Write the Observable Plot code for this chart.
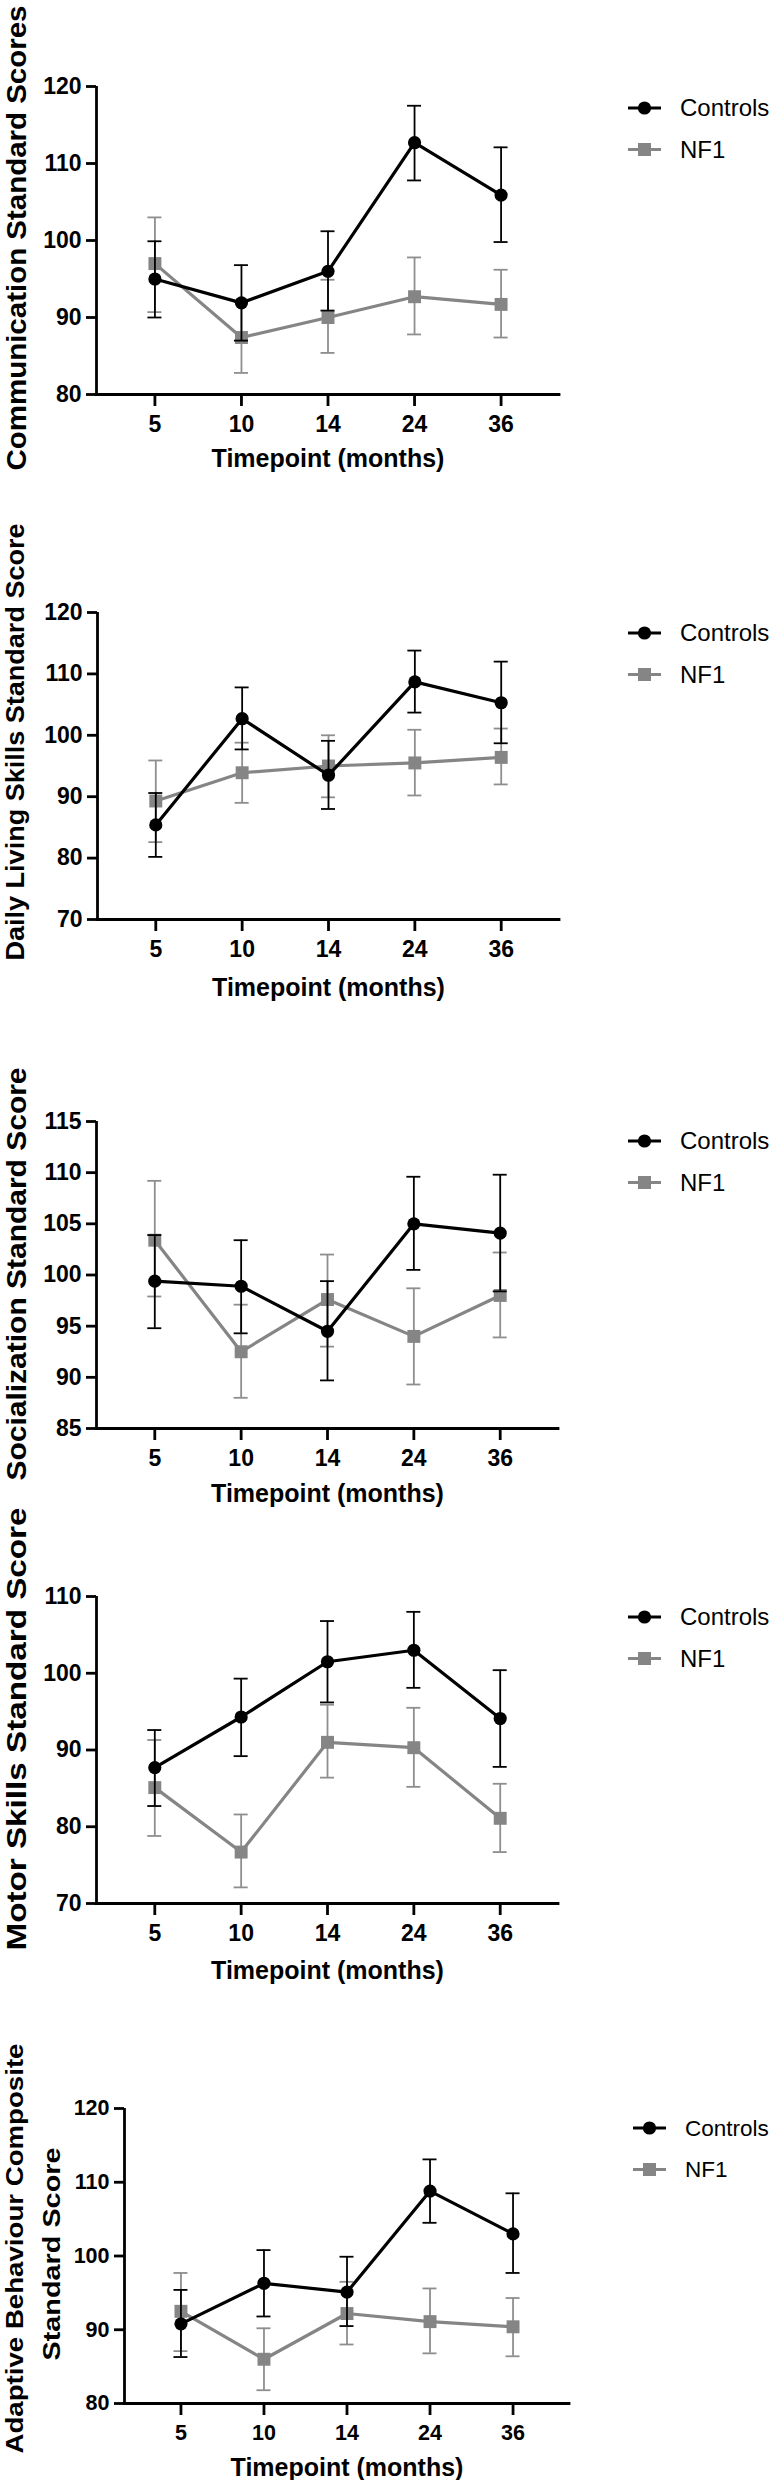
<!DOCTYPE html>
<html><head><meta charset="utf-8">
<script src="https://cdn.jsdelivr.net/npm/d3@7"></script>
<script src="https://cdn.jsdelivr.net/npm/@observablehq/plot@0.6"></script>
<style>
html,body{margin:0;padding:0;background:#fff;}
#root{position:relative;width:772px;height:2480px;overflow:hidden;font-family:"Liberation Sans",Arial,Helvetica,sans-serif;}
#root > svg{position:absolute;left:0;}
</style></head><body><div id="root"></div>
<script>
// ---------- data ----------
const timepoints = ["5", "10", "14", "24", "36"];
const seriesNames = ["Controls", "NF1"];
const xTitle = "Timepoint (months)";

// Communication
const commControlsMean = [95.0, 91.9, 96.0, 112.7, 105.9];
const commControlsLow  = [90.0, 87.0, 90.9, 107.8, 99.8];
const commControlsHigh = [99.9, 96.8, 101.2, 117.5, 112.1];
const commNF1Mean = [97.0, 87.4, 90.0, 92.7, 91.7];
const commNF1Low  = [90.7, 82.8, 85.4, 87.8, 87.4];
const commNF1High = [103.0, 92.0, 94.9, 97.8, 96.2];

// Daily Living Skills
const dlsControlsMean = [85.4, 102.7, 93.5, 108.7, 105.3];
const dlsControlsLow  = [80.2, 97.7, 88.0, 103.7, 98.7];
const dlsControlsHigh = [90.6, 107.8, 99.1, 113.8, 112.0];
const dlsNF1Mean = [89.3, 93.9, 95.0, 95.5, 96.4];
const dlsNF1Low  = [82.6, 89.0, 89.9, 90.2, 92.0];
const dlsNF1High = [95.9, 98.8, 100.0, 100.9, 101.1];

// Socialization
const socControlsMean = [99.4, 98.9, 94.5, 105.0, 104.1];
const socControlsLow  = [94.8, 94.3, 89.7, 100.5, 98.4];
const socControlsHigh = [103.9, 103.4, 99.4, 109.6, 109.8];
const socNF1Mean = [103.4, 92.5, 97.6, 94.0, 98.0];
const socNF1Low  = [97.9, 88.0, 93.0, 89.3, 93.9];
const socNF1High = [109.2, 97.1, 102.0, 98.7, 102.2];

// Motor Skills
const motControlsMean = [87.7, 94.3, 101.5, 103.0, 94.1];
const motControlsLow  = [82.7, 89.2, 96.2, 98.1, 87.8];
const motControlsHigh = [92.6, 99.3, 106.8, 108.0, 100.4];
const motNF1Mean = [85.1, 76.7, 91.0, 90.3, 81.1];
const motNF1Low  = [78.8, 72.1, 86.4, 85.2, 76.7];
const motNF1High = [91.3, 81.6, 95.9, 95.5, 85.6];

// Adaptive Behaviour Composite
const abcControlsMean = [90.8, 96.3, 95.1, 108.8, 103.0];
const abcControlsLow  = [86.3, 91.8, 90.5, 104.5, 97.7];
const abcControlsHigh = [95.4, 100.8, 99.9, 113.1, 108.5];
const abcNF1Mean = [92.5, 86.0, 92.2, 91.1, 90.4];
const abcNF1Low  = [87.1, 81.8, 88.0, 86.8, 86.4];
const abcNF1High = [97.7, 90.2, 96.5, 95.6, 94.3];

// y-axis titles and tick values
const commTitle = ["Communication Standard Scores"];
const dlsTitle = ["Daily Living Skills Standard Score"];
const socTitle = ["Socialization Standard Score"];
const motTitle = ["Motor Skills Standard Score"];
const abcTitle = ["Adaptive Behaviour Composite", "Standard Score"];
const commTicks = [80, 90, 100, 110, 120];
const dlsTicks = [70, 80, 90, 100, 110, 120];
const socTicks = [85, 90, 95, 100, 105, 110, 115];
const motTicks = [70, 80, 90, 100, 110];
const abcTicks = [80, 90, 100, 110, 120];

// ---------- layout ----------
const FONT = '"Liberation Sans", Arial, Helvetica, sans-serif';
const BLACK = "#000000";
const GREY = "#858585";
const GREY_ERR = "#8e8e8e";

const panels = [
  {title: commTitle, ticks: commTicks, c: [commControlsMean, commControlsLow, commControlsHigh], n: [commNF1Mean, commNF1Low, commNF1High],
   top: 0, height: 510, fTop: 86, fBottom: 394, fLeft: 96, fRight: 559, pad: 0.675, tickFont: 23,
   titleX: [17], titleCY: [237.5], titleFont: 28, titleLen: [465], xTitleDy: 64, legendY: 108, legendX: 628, legendFont: 24},
  {title: dlsTitle, ticks: dlsTicks, c: [dlsControlsMean, dlsControlsLow, dlsControlsHigh], n: [dlsNF1Mean, dlsNF1Low, dlsNF1High],
   top: 510, height: 500, fTop: 612, fBottom: 919, fLeft: 97, fRight: 559, pad: 0.675, tickFont: 23,
   titleX: [15.5], titleCY: [741.5], titleFont: 26, titleLen: [437], xTitleDy: 68, legendY: 633, legendX: 628, legendFont: 24},
  {title: socTitle, ticks: socTicks, c: [socControlsMean, socControlsLow, socControlsHigh], n: [socNF1Mean, socNF1Low, socNF1High],
   top: 1010, height: 500, fTop: 1121, fBottom: 1428, fLeft: 96, fRight: 558, pad: 0.675, tickFont: 23,
   titleX: [17], titleCY: [1273.5], titleFont: 28, titleLen: [413], xTitleDy: 65, legendY: 1141, legendX: 628, legendFont: 24},
  {title: motTitle, ticks: motTicks, c: [motControlsMean, motControlsLow, motControlsHigh], n: [motNF1Mean, motNF1Low, motNF1High],
   top: 1510, height: 480, fTop: 1596, fBottom: 1903, fLeft: 96, fRight: 558, pad: 0.675, tickFont: 23,
   titleX: [16.5], titleCY: [1728.5], titleFont: 27, titleLen: [443], xTitleDy: 67, legendY: 1617, legendX: 628, legendFont: 24},
  {title: abcTitle, ticks: abcTicks, c: [abcControlsMean, abcControlsLow, abcControlsHigh], n: [abcNF1Mean, abcNF1Low, abcNF1High],
   top: 1990, height: 490, fTop: 2108, fBottom: 2403, fLeft: 124, fRight: 569, pad: 0.68, tickFont: 21.5,
   titleX: [15, 52.5], titleCY: [2248, 2253.5], titleFont: 23, titleLen: [410, 213], xTitleDy: 64, legendY: 2128, legendX: 633, legendFont: 22.5}
];

const root = document.getElementById("root");

function rowsOf([mean, low, high], name) {
  return timepoints.map((t, i) => ({i, t, mean: mean[i], low: low[i], high: high[i], series: name}));
}

panels.forEach(p => {
  const ctrl = rowsOf(p.c, seriesNames[0]);
  const nf1 = rowsOf(p.n, seriesNames[1]);
  const yDomain = [p.ticks[0], p.ticks[p.ticks.length - 1]];
  const xDomain = [-p.pad, timepoints.length - 1 + p.pad];
  const step = (p.fRight - p.fLeft) / (xDomain[1] - xDomain[0]);
  const cap = 7 / step;
  const frameCY = (p.fTop + p.fBottom) / 2;

  const errMarks = (rows, color, w) => [
    Plot.ruleX(rows, {x: "i", y1: "low", y2: "high", stroke: color, strokeWidth: w}),
    Plot.ruleY(rows, {y: "high", x1: d => d.i - cap, x2: d => d.i + cap, stroke: color, strokeWidth: w}),
    Plot.ruleY(rows, {y: "low", x1: d => d.i - cap, x2: d => d.i + cap, stroke: color, strokeWidth: w})
  ];

  const titleMarks = p.title.map((line, k) =>
    Plot.text([line], {
      text: d => d, frameAnchor: "left", rotate: -90,
      dx: p.titleX[k] - p.fLeft, dy: p.titleCY[k] - frameCY,
      textAnchor: "middle", lineAnchor: "middle",
      fontSize: p.titleFont, fontWeight: "bold", fill: BLACK
    })
  );

  const svg = Plot.plot({
    width: 772,
    height: p.height,
    marginTop: p.fTop - p.top,
    marginBottom: p.top + p.height - p.fBottom,
    marginLeft: p.fLeft,
    marginRight: 772 - p.fRight,
    x: {domain: xDomain, axis: null},
    y: {domain: yDomain, axis: null},
    style: {fontFamily: FONT, color: BLACK, background: "transparent", overflow: "visible"},
    marks: [
      Plot.axisY({ticks: p.ticks, tickFormat: d => String(d), tickSize: 10, tickPadding: 5, stroke: BLACK, strokeWidth: 2.8,
        fontSize: p.tickFont, fontWeight: "bold", fill: BLACK, label: null}),
      Plot.axisX({ticks: timepoints.map((t, i) => i), tickFormat: i => timepoints[i], tickSize: 12, tickPadding: 9, stroke: BLACK, strokeWidth: 2.8,
        fontSize: p.tickFont, fontWeight: "bold", fill: BLACK, label: null}),
      Plot.ruleX([xDomain[0]], {stroke: BLACK, strokeWidth: 2.8}),
      Plot.ruleY([yDomain[0]], {stroke: BLACK, strokeWidth: 2.8, strokeLinecap: "square"}),
      ...errMarks(nf1, GREY_ERR, 1.8),
      Plot.line(nf1, {x: "i", y: "mean", stroke: GREY, strokeWidth: 3.2}),
      Plot.dot(nf1, {x: "i", y: "mean", symbol: "square", r: 7.3, fill: GREY, stroke: "none"}),
      ...errMarks(ctrl, BLACK, 1.8),
      Plot.line(ctrl, {x: "i", y: "mean", stroke: BLACK, strokeWidth: 3.2}),
      Plot.dot(ctrl, {x: "i", y: "mean", symbol: "circle", r: 6.6, fill: BLACK, stroke: "none"}),
      ...titleMarks,
      Plot.text([xTitle], {text: d => d, frameAnchor: "bottom", dy: p.xTitleDy, lineAnchor: "middle",
        fontSize: 25, fontWeight: "bold", fill: BLACK})
    ]
  });
  svg.style.top = p.top + "px";
  // fit y-axis title lengths to the reference
  svg.querySelectorAll("text").forEach(t => {
    const k = p.title.indexOf(t.textContent);
    if (k >= 0) {
      t.setAttribute("textLength", p.titleLen[k]);
      t.setAttribute("lengthAdjust", "spacingAndGlyphs");
    }
  });
  root.appendChild(svg);

  // legend
  const lg = d3.create("svg")
    .attr("width", 772 - p.legendX + 10).attr("height", 90)
    .style("left", (p.legendX - 10) + "px").style("top", (p.legendY - 25) + "px")
    .style("position", "absolute").style("overflow", "visible");
  const items = [
    {name: seriesNames[0], color: BLACK, shape: "circle", y: 25},
    {name: seriesNames[1], color: GREY, shape: "square", y: 25 + 41.5}
  ];
  items.forEach(it => {
    lg.append("line").attr("x1", 10).attr("x2", 43).attr("y1", it.y).attr("y2", it.y)
      .attr("stroke", it.color).attr("stroke-width", 3.2);
    if (it.shape === "circle") {
      lg.append("circle").attr("cx", 26.5).attr("cy", it.y).attr("r", 6.6).attr("fill", it.color);
    } else {
      lg.append("rect").attr("x", 20).attr("y", it.y - 6.5).attr("width", 13).attr("height", 13).attr("fill", it.color);
    }
    lg.append("text").attr("x", 62).attr("y", it.y).attr("dy", "0.35em")
      .attr("font-family", FONT).attr("font-size", p.legendFont).attr("fill", BLACK).text(it.name);
  });
  root.appendChild(lg.node());
});
</script>
</body></html>
